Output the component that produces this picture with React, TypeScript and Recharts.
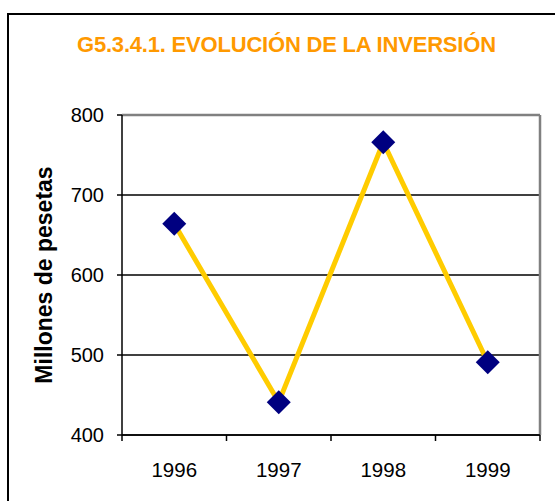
import { CartesianGrid, Label, Line, LineChart, ReferenceLine, XAxis, YAxis } from "recharts"

const years = ["1996", "1997", "1998", "1999"]
const inversion = [664, 441, 766, 491]
const yTicks = [400, 500, 600, 700, 800]

const data = years.map((year, i) => ({ year, value: inversion[i] }))

const font = "'Liberation Sans', Arial, sans-serif"

function Diamond(props: any) {
  const { cx, cy } = props
  if (cx == null || cy == null) return <g />
  const r = 12
  return (
    <path
      d={`M${cx},${cy - r} L${cx + r},${cy} L${cx},${cy + r} L${cx - r},${cy} Z`}
      fill="#000080"
    />
  )
}

// year label plus tick marks on the band edges (Excel style)
function YearTick(props: any) {
  const { x, y, payload, index, visibleTicksCount } = props
  const half = payload?.offset ?? 0
  const last = index === visibleTicksCount - 1
  return (
    <g>
      <line x1={x - half} y1={y} x2={x - half} y2={y + 6} stroke="#000" strokeWidth={1.5} />
      {last && <line x1={x + half} y1={y} x2={x + half} y2={y + 6} stroke="#000" strokeWidth={1.5} />}
      <text x={x} y={y + 27} dy="0.71em" textAnchor="middle" fill="#000" fontSize={20.5} fontFamily={font}>
        {payload.value}
      </text>
    </g>
  )
}

export default function App() {
  return (
    <div
      style={{
        position: "absolute",
        left: 0,
        top: 0,
        width: 555,
        height: 501,
        overflow: "hidden",
        background: "#fff",
        fontFamily: font,
      }}
    >
      <div
        style={{
          position: "absolute",
          left: 7,
          top: 13,
          width: 700,
          height: 700,
          border: "2px solid #000",
        }}
      />
      <div
        style={{
          position: "absolute",
          left: 77,
          top: 32,
          fontSize: 22,
          fontWeight: "bold",
          color: "#FF9900",
          whiteSpace: "nowrap",
          letterSpacing: -0.2,
        }}
      >
        G5.3.4.1. EVOLUCIÓN DE LA INVERSIÓN
      </div>
      <div style={{ position: "absolute", left: 0, top: 0 }}>
        <LineChart width={555} height={501} data={data} margin={{ top: 115, right: 15, bottom: 0, left: 0 }}>
          <CartesianGrid vertical={false} stroke="#000" strokeWidth={1.3} />
          <XAxis
            dataKey="year"
            scale="band"
            height={66}
            axisLine={{ stroke: "#000", strokeWidth: 1.5 }}
            tickLine={false}
            tickSize={0}
            tickMargin={0}
            interval={0}
            tick={<YearTick />}
          />
          <YAxis
            domain={[400, 800]}
            ticks={yTicks}
            width={122}
            tickSize={5}
            tickMargin={13}
            axisLine={{ stroke: "#000", strokeWidth: 1.5 }}
            tickLine={{ stroke: "#000", strokeWidth: 1.5 }}
            tick={{ fill: "#000", fontSize: 20, fontFamily: font }}
          >
            <Label
              value="Millones de pesetas"
              angle={-90}
              position="insideLeft"
              offset={44}
              style={{ textAnchor: "middle", fontSize: 23, fontWeight: "bold", fill: "#000", fontFamily: font }}
            />
          </YAxis>
          <ReferenceLine y={800} stroke="#808080" strokeWidth={2.5} />
          <ReferenceLine x="1999" position="end" stroke="#808080" strokeWidth={2.5} />
          <Line
            type="linear"
            dataKey="value"
            stroke="#FFCC00"
            strokeWidth={5}
            dot={<Diamond />}
            activeDot={false}
            isAnimationActive={false}
          />
        </LineChart>
      </div>
    </div>
  )
}
